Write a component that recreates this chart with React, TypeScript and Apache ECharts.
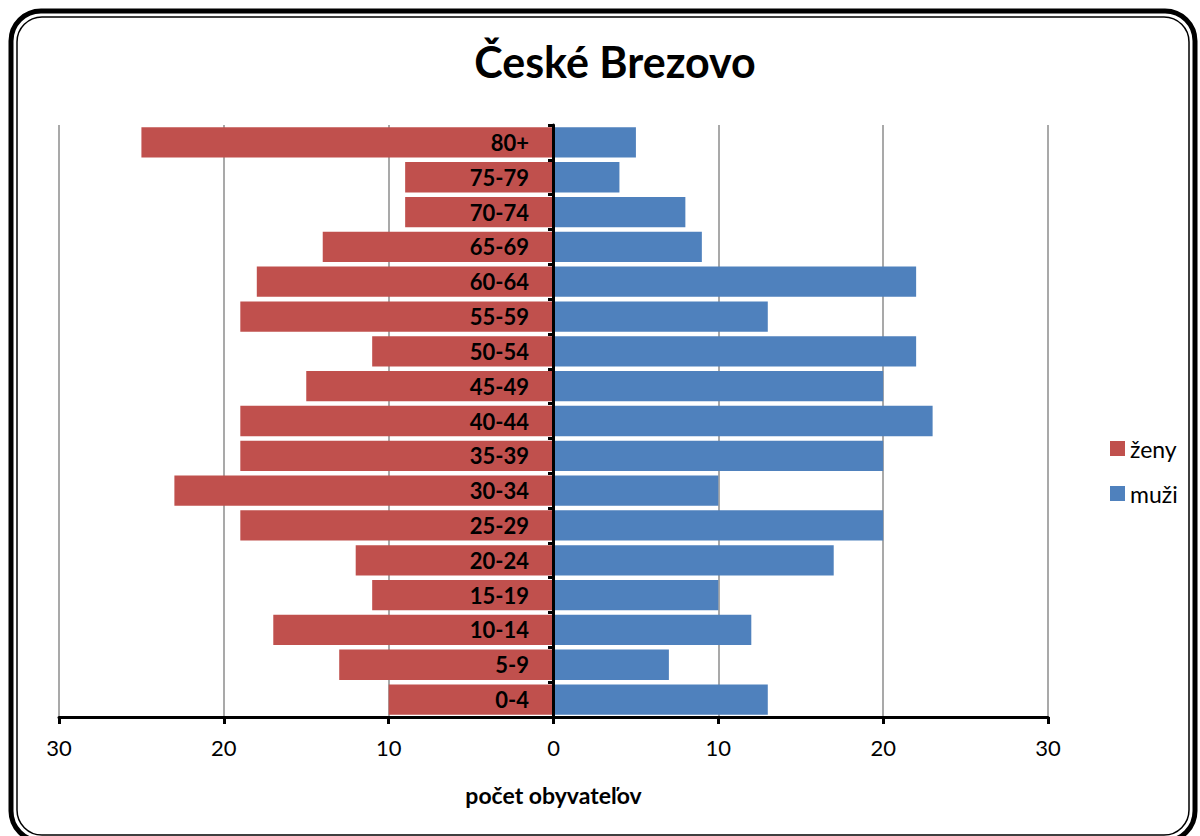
import React, { useEffect, useRef } from "react";
import * as echarts from "echarts";

const categories = ["0-4", "5-9", "10-14", "15-19", "20-24", "25-29", "30-34", "35-39", "40-44", "45-49", "50-54", "55-59", "60-64", "65-69", "70-74", "75-79", "80+"];
const zeny = [10, 13, 17, 11, 12, 19, 23, 19, 19, 15, 11, 19, 18, 14, 9, 9, 25];
const muzi = [13, 7, 12, 10, 17, 20, 10, 20, 23, 20, 22, 13, 22, 9, 8, 4, 5];
const title = "České Brezovo";
const xName = "počet obyvateľov";

const FONT = "Lato, 'Open Sans', sans-serif";

export default function App() {
  const ref = useRef<HTMLDivElement>(null);
  useEffect(() => {
    if (!ref.current) return;
    const chart = echarts.init(ref.current, null, { renderer: "svg" });
    chart.setOption({
      animation: false,
      backgroundColor: "#fff",
      textStyle: { fontFamily: FONT },
      title: {
        text: title,
        left: 610,
        top: 35,
        textAlign: "center",
        textStyle: { fontFamily: FONT, fontSize: 43, fontWeight: "bold", color: "#000" },
      },
      legend: {
        orient: "vertical",
        left: 1105,
        top: 432,
        itemWidth: 15,
        itemHeight: 15,
        itemGap: 22,
        icon: "rect",
        textStyle: { fontFamily: FONT, fontSize: 23, color: "#000" },
        data: ["ženy", "muži"],
      },
      grid: { left: 59, right: 152, top: 125, bottom: 119, outerBoundsMode: "none", containLabel: false },
      xAxis: {
        type: "value",
        min: -30,
        max: 30,
        interval: 10,
        name: xName,
        nameLocation: "middle",
        nameGap: 66,
        nameTextStyle: { fontFamily: FONT, fontSize: 23, fontWeight: "bold", color: "#000" },
        axisLine: { show: true, lineStyle: { color: "#000", width: 3 } },
        axisTick: { show: true, length: 7, lineStyle: { color: "#000", width: 3 } },
        axisLabel: {
          margin: 19,
          fontFamily: FONT,
          fontSize: 22,
          color: "#000",
          formatter: (v: number) => String(Math.abs(v)),
        },
        splitLine: { show: true, lineStyle: { color: "#8c8c8c", width: 1.5 } },
      },
      yAxis: {
        type: "category",
        data: categories,
        z: 10,
        position: "left",
        offset: -494,
        axisLine: { show: true, onZero: false, lineStyle: { color: "#000", width: 3 } },
        axisTick: { show: true, length: 5, lineStyle: { color: "#000", width: 3 } },
        axisLabel: {
          margin: 24,
          fontFamily: FONT,
          fontSize: 22,
          fontWeight: "bold",
          color: "#000",
        },
        splitLine: { show: false },
      },
      series: [
        {
          name: "ženy",
          type: "bar",
          stack: "total",
          data: zeny.map((v) => -v),
          itemStyle: { color: "#C0504D" },
          barCategoryGap: "13%",
        },
        {
          name: "muži",
          type: "bar",
          stack: "total",
          data: muzi,
          itemStyle: { color: "#4F81BD" },
          barCategoryGap: "13%",
        },
      ],
      graphic: [
        {
          type: "rect",
          shape: { x: 11, y: 11, width: 1184, height: 830, r: 30 },
          style: { fill: "none", stroke: "#000", lineWidth: 5 },
          z: 100,
        },
        {
          type: "rect",
          shape: { x: 17, y: 17, width: 1172, height: 818, r: 25 },
          style: { fill: "none", stroke: "#000", lineWidth: 1.5 },
          z: 100,
        },
      ],
    });
    return () => chart.dispose();
  }, []);
  return (
    <div
      ref={ref}
      style={{ position: "absolute", left: 0, top: 0, width: 1200, height: 836 }}
    />
  );
}
